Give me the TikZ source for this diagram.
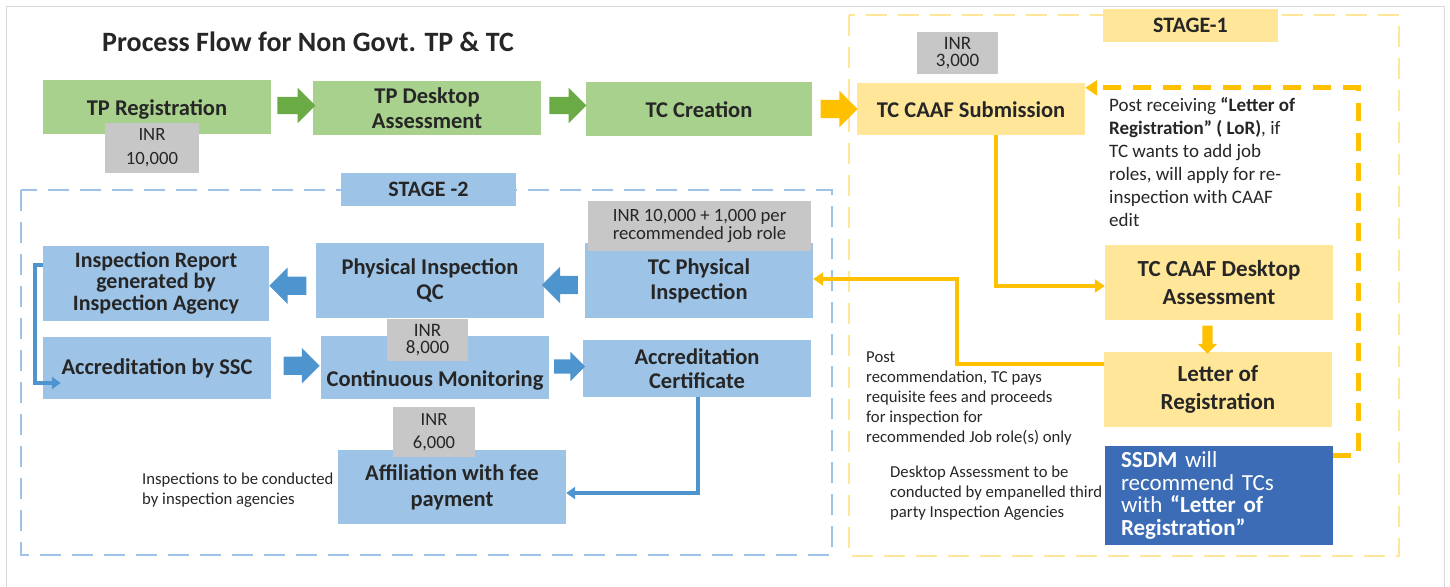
\documentclass[tikz,border=0pt]{standalone}
\usepackage{fontspec}
\setmainfont{Carlito}
\usetikzlibrary{shapes.arrows,arrows.meta,calc}

\definecolor{tpgreen}{HTML}{A9D18E}
\definecolor{arrgreen}{HTML}{6AAB45}
\definecolor{caafyellow}{HTML}{FFE699}
\definecolor{arryellow}{HTML}{FFC000}
\definecolor{inspblue}{HTML}{9DC3E6}
\definecolor{arrblue}{HTML}{4E95D0}
\definecolor{feegray}{HTML}{C7C7C7}
\definecolor{ssdmblue}{HTML}{3B6CB5}
\definecolor{outerline}{HTML}{D9D9D9}
\definecolor{ink}{HTML}{262626}

\tikzset{
  box/.style={inner sep=0pt, align=center, text=ink, minimum width=228pt,
    font=\fontsize{22.5}{25}\selectfont\bfseries},
  greenbox/.style={box, fill=tpgreen, minimum height=54pt},
  yellowbox/.style={box, fill=caafyellow},
  bluebox/.style={box, fill=inspblue},
  oneline/.style={text height=18pt, text depth=2pt},
  fee/.style={fill=feegray, inner sep=0pt, align=center, text=ink},
  stagelabel/.style={inner sep=0pt, minimum width=175pt, minimum height=33pt,
    text=ink, font=\fontsize{22}{24}\selectfont\bfseries},
  note/.style={inner sep=0pt, align=left, anchor=north west, text=ink},
  blockarrow/.style={single arrow, single arrow head indent=0pt},
  ylink/.style={arryellow, line width=4pt, -{Triangle[length=10pt,width=13pt]}},
  blink/.style={arrblue, line width=3.5pt, -{Triangle[length=9pt,width=12pt]}},
  stageframe/.style={line width=1.8pt, dash pattern=on 21pt off 11pt},
}

\begin{document}
\begin{tikzpicture}[x=1pt,y=-1pt]
    \useasboundingbox (0,0) rectangle (1450,586);
    \draw[outerline, line width=1pt] (6.5,6.5) rectangle (1444,600);

    % stage frames
    \draw[stageframe, caafyellow] (849,15) rectangle (1399,556);
    \draw[stageframe, inspblue] (21,190) rectangle (832,555);
    \node[stagelabel, fill=caafyellow] (stageone) at (1190.5,25.5) {STAGE-1};
    \node[stagelabel, fill=inspblue] (stagetwo) at (428.5,189.5) {STAGE -2};

    \node[anchor=base west, inner sep=0pt, text=ink, font=\fontsize{28}{30}\selectfont\bfseries]
        (title) at (102,52) {Process Flow for Non Govt. TP \& TC};

    % top row
    \node[greenbox, oneline] (tpreg) at (157,107) {TP Registration};
    \node[greenbox] (tpdesk) at (427,108) {TP Desktop\\Assessment};
    \node[greenbox, oneline, minimum width=226pt] (tccreate) at (699,109) {TC Creation};
    \node[yellowbox, oneline, minimum height=52pt] (caafsub) at (971,109) {TC CAAF Submission};

    % stage 1
    \node[yellowbox, minimum height=75pt, font=\fontsize{23}{28}\selectfont\bfseries]
        (caafdesk) at (1219,282.5) {TC CAAF Desktop\\Assessment};
    \node[yellowbox, minimum height=75pt, font=\fontsize{23}{28}\selectfont\bfseries]
        (lor) at (1218,389.5) {Letter of\\Registration};
    \node[fill=ssdmblue, text=white, inner sep=0pt, minimum width=228pt, minimum height=99pt,
        text width=196pt, align=left, font=\fontsize{23}{22.7}\selectfont]
        (ssdm) at (1219,495.5) {\textbf{SSDM} will\\recommend TCs\\with \textbf{“Letter of}\\\textbf{Registration”}};

    % stage 2
    \node[bluebox, minimum width=226pt, minimum height=75pt, font=\fontsize{22}{21.5}\selectfont\bfseries]
        (insprep) at (156,283) {Inspection Report\\generated by\\Inspection Agency};
    \node[bluebox, minimum height=75pt] (physqc) at (430,280.5) {Physical Inspection\\QC};
    \node[bluebox, minimum height=75pt] (tcphys) at (699,280.5) {TC Physical\\Inspection};
    \node[bluebox, minimum height=62pt, text height=16pt, text depth=4pt] (accssc) at (157,368) {Accreditation by SSC};
    \node[bluebox, minimum height=63pt, text height=42pt, text depth=5pt]
        (contmon) at (435,367.5) {Continuous Monitoring};
    \node[bluebox, minimum height=57pt, font=\fontsize{22.5}{24}\selectfont\bfseries]
        (acccert) at (697,368.5) {Accreditation\\Certificate};
    \node[bluebox, minimum height=74pt, font=\fontsize{22.5}{26}\selectfont\bfseries]
        (affil) at (452,487) {Affiliation with fee\\payment};

    % fees
    \node[fee, minimum width=94pt, minimum height=50pt, font=\fontsize{18.7}{24}\selectfont]
        (feetp) at (152,148) {INR\\10,000};
    \node[fee, minimum width=81pt, minimum height=42pt, font=\fontsize{19}{17}\selectfont]
        (feecaaf) at (957.5,53) {INR\\3,000};
    \node[fee, minimum width=223pt, minimum height=50pt, font=\fontsize{18.7}{17.5}\selectfont]
        (feephys) at (699.5,226) {INR 10,000 + 1,000 per\\recommended job role};
    \node[fee, minimum width=81pt, minimum height=42pt, font=\fontsize{19}{17}\selectfont]
        (feemon) at (427.5,340) {INR\\8,000};
    \node[fee, minimum width=82pt, minimum height=50pt, font=\fontsize{18.5}{23}\selectfont]
        (feeaffil) at (434,432) {INR\\6,000};

    % block arrows
    \node[blockarrow, fill=arrgreen, inner sep=8.5pt, minimum height=38pt, minimum width=35pt, single arrow head extend=9pt]
        (ga1) at ($(tpreg.east)!.5!(tpdesk.west)+(0,-2)$) {};
    \node[blockarrow, fill=arrgreen, inner sep=8.5pt, minimum height=37pt, minimum width=35pt, single arrow head extend=9pt]
        (ga2) at ($(tpdesk.east)!.5!(tccreate.west)+(0,-3)$) {};
    \node[blockarrow, fill=arryellow, inner sep=9pt, minimum height=37pt, minimum width=36pt, single arrow head extend=9pt]
        (ya1) at ($(tccreate.east)!.5!(caafsub.west)$) {};
    \node[blockarrow, fill=arryellow, inner sep=5pt, minimum height=28pt, minimum width=19pt, single arrow head extend=4.5pt,
        shape border rotate=270] (ya2) at ($(caafdesk.south)!.5!(lor.north)+(-11,1)$) {};
    \node[blockarrow, fill=arrblue, inner sep=9pt, minimum height=37pt, minimum width=36pt, single arrow head extend=9pt,
        shape border rotate=180] (ba1) at ($(physqc.west)!.5!(insprep.east)+(0,4)$) {};
    \node[blockarrow, fill=arrblue, inner sep=9pt, minimum height=36pt, minimum width=36pt, single arrow head extend=9pt,
        shape border rotate=180] (ba2) at ($(tcphys.west)!.5!(physqc.east)+(0,4.5)$) {};
    \node[blockarrow, fill=arrblue, inner sep=9pt, minimum height=36pt, minimum width=35pt, single arrow head extend=8.5pt]
        (ba3) at ($(accssc.east)!.5!(contmon.west)+(1,-2)$) {};
    \node[blockarrow, fill=arrblue, inner sep=7pt, minimum height=31pt, minimum width=29pt, single arrow head extend=7.5pt]
        (ba4) at ($(contmon.east)!.5!(acccert.west)+(0,-1.5)$) {};

    % connectors
    \draw[ylink] ([xshift=25pt]caafsub.south) |- ([yshift=-3.5pt]caafdesk.west);
    \draw[ylink] ([yshift=25.5pt]lor.west) -- ++(-147,0) |- ([yshift=1.5pt]tcphys.east);
    \draw[arryellow, line width=5pt, dash pattern=on 18pt off 12pt, -{Triangle[length=12pt,width=15pt]}]
        ([yshift=-10pt]ssdm.north east) -- ++(25,0) |- ([yshift=-5pt]caafsub.north east);
    \draw[blink] ([yshift=18pt]insprep.west) -- ++(-8,0) |- ([xshift=18pt,yshift=-15pt]accssc.west);
    \draw[blink] ([xshift=1pt]acccert.south) |- ([yshift=-6pt]affil.east);

    % notes
    \node[note, font=\fontsize{19}{23}\selectfont] (lornote) at (1109,97.5)
        {Post receiving \textbf{“Letter of}\\\textbf{Registration” ( LoR)}, if\\TC wants to add job\\roles, will apply for re-\\inspection with CAAF\\edit};
    \node[note, font=\fontsize{16.7}{20}\selectfont] (paynote) at (866,352)
        {Post\\recommendation, TC pays\\requisite fees and proceeds\\for inspection for\\recommended Job role(s) only};
    \node[note, font=\fontsize{16.7}{20}\selectfont] (desknote) at (890,466)
        {Desktop Assessment to be\\conducted by empanelled third\\party Inspection Agencies};
    \node[note, font=\fontsize{16.7}{20}\selectfont] (agencynote) at (142,473)
        {Inspections to be conducted\\by inspection agencies};
\end{tikzpicture}
\end{document}
